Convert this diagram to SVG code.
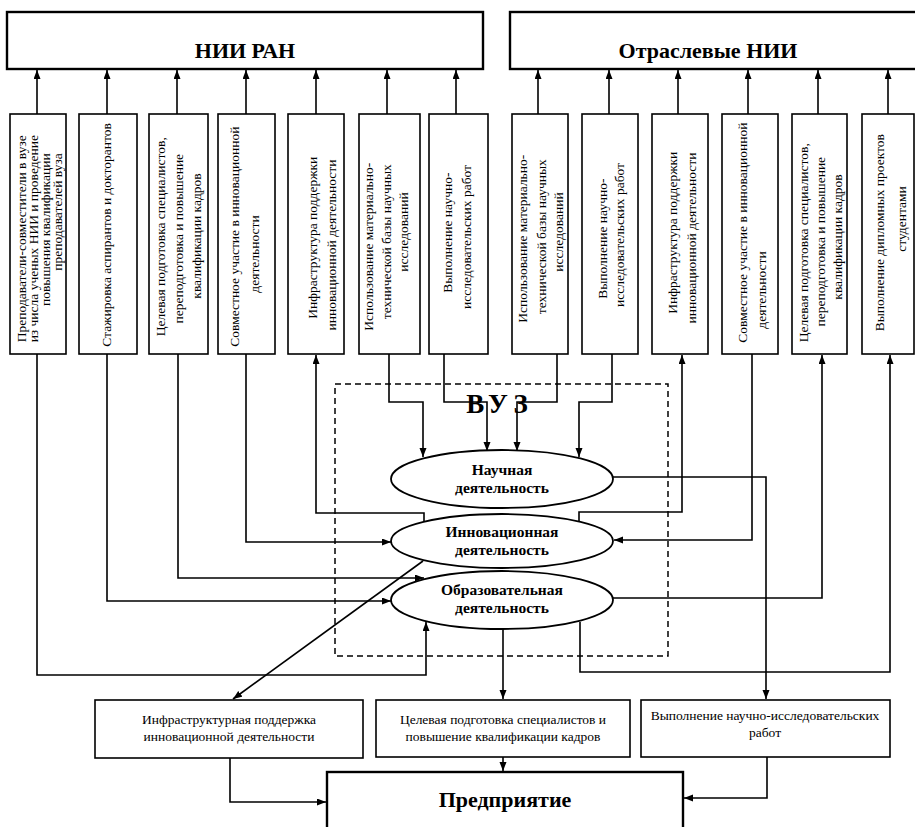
<svg xmlns="http://www.w3.org/2000/svg" width="915" height="827" viewBox="0 0 915 827">
  <style>
    .box { fill: #fff; stroke: #000; stroke-width: 1.6; }
    .big { fill: #fff; stroke: #000; stroke-width: 2.4; }
    .ell { fill: #fff; stroke: #000; stroke-width: 1.8; }
    .line { fill: none; stroke: #000; stroke-width: 1.6; }
    .arr { fill: none; stroke: #000; stroke-width: 1.6; marker-end: url(#ah); }
    .dash { fill: none; stroke: #000; stroke-width: 1.5; stroke-dasharray: 6 4; }
    .t { font-family: "Liberation Serif", "Times New Roman", serif; font-size: 13.5px; fill: #000; text-anchor: middle; }
    .hb { font-family: "Liberation Serif", "Times New Roman", serif; font-weight: bold; font-size: 22px; fill: #000; text-anchor: middle; }
    .eb { font-family: "Liberation Serif", "Times New Roman", serif; font-weight: bold; font-size: 15.5px; fill: #000; text-anchor: middle; }
  </style>
  <defs>
    <marker id="ah" markerUnits="userSpaceOnUse" markerWidth="10" markerHeight="8" refX="9" refY="3.5" orient="auto">
      <path d="M0,0 L9,3.5 L0,7 z" fill="#000"/>
    </marker>
  </defs>
  <rect width="915" height="827" fill="#fff"/>

  <!-- research institutes -->
  <g id="nii-ran">
    <rect class="big" x="7" y="12" width="476" height="57"/>
    <text class="hb" x="245" y="58">НИИ РАН</text>
  </g>
  <g id="nii-branch">
    <rect class="big" x="510" y="12" width="420" height="57"/>
    <text class="hb" x="708" y="58">Отраслевые НИИ</text>
  </g>

  <!-- cooperation forms (vertical boxes); text rotated: x=-centerY, y=baselineX -->
  <g id="f1">
    <rect class="box" x="10" y="114" width="56" height="240"/>
    <text class="t" transform="rotate(-90)">
      <tspan x="-237" y="26">Преподаватели-совместители в вузе</tspan>
      <tspan x="-237" y="38">из числа ученых НИИ и проведение</tspan>
      <tspan x="-228" y="50">повышения квалификации</tspan>
      <tspan x="-212" y="62">преподавателей вуза</tspan>
    </text>
  </g>
  <g id="f2">
    <rect class="box" x="79" y="114" width="58" height="240"/>
    <text class="t" transform="rotate(-90)"><tspan x="-235" y="111">Стажировка аспирантов и докторантов</tspan></text>
  </g>
  <g id="f3">
    <rect class="box" x="149" y="114" width="59" height="240"/>
    <text class="t" transform="rotate(-90)">
      <tspan x="-235" y="165">Целевая подготовка специалистов,</tspan>
      <tspan x="-237" y="183">переподготовка и повышение</tspan>
      <tspan x="-236" y="201">квалификации кадров</tspan>
    </text>
  </g>
  <g id="f4">
    <rect class="box" x="218" y="114" width="57" height="240"/>
    <text class="t" transform="rotate(-90)">
      <tspan x="-235" y="239">Совместное участие в инновационной</tspan>
      <tspan x="-254" y="259">деятельности</tspan>
    </text>
  </g>
  <g id="f5">
    <rect class="box" x="288" y="114" width="56" height="240"/>
    <text class="t" transform="rotate(-90)">
      <tspan x="-236" y="317">Инфраструктура поддержки</tspan>
      <tspan x="-245" y="336">инновационной деятельности</tspan>
    </text>
  </g>
  <g id="f6">
    <rect class="box" x="359" y="114" width="61" height="240"/>
    <text class="t" transform="rotate(-90)">
      <tspan x="-245" y="373">Использование материально-</tspan>
      <tspan x="-240" y="391">технической базы научных</tspan>
      <tspan x="-232" y="408">исследований</tspan>
    </text>
  </g>
  <g id="f7">
    <rect class="box" x="429" y="114" width="59" height="240"/>
    <text class="t" transform="rotate(-90)">
      <tspan x="-231" y="452">Выполнение научно-</tspan>
      <tspan x="-237" y="471">исследовательских работ</tspan>
    </text>
  </g>
  <g id="f8">
    <rect class="box" x="512" y="114" width="56" height="240"/>
    <text class="t" transform="rotate(-90)">
      <tspan x="-237" y="527">Использование материально-</tspan>
      <tspan x="-235" y="546">технической базы научных</tspan>
      <tspan x="-232" y="563">исследований</tspan>
    </text>
  </g>
  <g id="f9">
    <rect class="box" x="582" y="114" width="56" height="240"/>
    <text class="t" transform="rotate(-90)">
      <tspan x="-237" y="607">Выполнение научно-</tspan>
      <tspan x="-235" y="624">исследовательских работ</tspan>
    </text>
  </g>
  <g id="f10">
    <rect class="box" x="652" y="114" width="56" height="240"/>
    <text class="t" transform="rotate(-90)">
      <tspan x="-231" y="677">Инфраструктура поддержки</tspan>
      <tspan x="-238" y="696">инновационной деятельности</tspan>
    </text>
  </g>
  <g id="f11">
    <rect class="box" x="722" y="114" width="56" height="240"/>
    <text class="t" transform="rotate(-90)">
      <tspan x="-231" y="747">Совместное участие в инновационной</tspan>
      <tspan x="-290" y="766">деятельности</tspan>
    </text>
  </g>
  <g id="f12">
    <rect class="box" x="792" y="114" width="55" height="240"/>
    <text class="t" transform="rotate(-90)">
      <tspan x="-241" y="808">Целевая подготовка специалистов,</tspan>
      <tspan x="-240" y="825">переподготовка и повышение</tspan>
      <tspan x="-237" y="842">квалификации кадров</tspan>
    </text>
  </g>
  <g id="f13">
    <rect class="box" x="862" y="114" width="52" height="240"/>
    <text class="t" transform="rotate(-90)">
      <tspan x="-231" y="884">Выполнение дипломных проектов</tspan>
      <tspan x="-219" y="906">студентами</tspan>
    </text>
  </g>

  <!-- university boundary -->
  <g id="vuz">
    <rect class="dash" x="335" y="384" width="333" height="272"/>
    <text class="hb" x="500" y="413" style="font-size:27px; letter-spacing:6px">ВУЗ</text>
  </g>

  <!-- activities -->
  <g id="science">
    <ellipse class="ell" cx="502" cy="479" rx="111" ry="29"/>
    <text class="eb" x="502" y="475">Научная</text>
    <text class="eb" x="502" y="493">деятельность</text>
  </g>
  <g id="innovation">
    <ellipse class="ell" cx="502" cy="541" rx="111" ry="27"/>
    <text class="eb" x="502" y="537">Инновационная</text>
    <text class="eb" x="502" y="555">деятельность</text>
  </g>
  <g id="education">
    <ellipse class="ell" cx="502" cy="600" rx="111" ry="29"/>
    <text class="eb" x="502" y="595">Образовательная</text>
    <text class="eb" x="502" y="613">деятельность</text>
  </g>

  <!-- results for the enterprise -->
  <g id="r-infra">
    <rect class="box" x="95" y="700" width="268" height="58"/>
    <text class="t" x="229" y="724">Инфраструктурная поддержка</text>
    <text class="t" x="229" y="741">инновационной деятельности</text>
  </g>
  <g id="r-training">
    <rect class="box" x="376" y="700" width="254" height="57"/>
    <text class="t" x="503" y="724">Целевая подготовка специалистов и</text>
    <text class="t" x="503" y="741">повышение квалификации кадров</text>
  </g>
  <g id="r-research">
    <rect class="box" x="641" y="700" width="249" height="57"/>
    <text class="t" x="765" y="720">Выполнение научно-исследовательских</text>
    <text class="t" x="765" y="737">работ</text>
  </g>
  <g id="enterprise">
    <rect class="big" x="327" y="772" width="356" height="70"/>
    <text class="hb" x="505" y="807">Предприятие</text>
  </g>

  <g id="connectors">
    <!-- forms up to the institutes -->
    <path class="arr" d="M37,114 V70"/>
    <path class="arr" d="M107,114 V70"/>
    <path class="arr" d="M177,114 V70"/>
    <path class="arr" d="M246,114 V70"/>
    <path class="arr" d="M316,114 V70"/>
    <path class="arr" d="M387,114 V70"/>
    <path class="arr" d="M456,114 V70"/>
    <path class="arr" d="M538,114 V70"/>
    <path class="arr" d="M609,114 V70"/>
    <path class="arr" d="M678,114 V70"/>
    <path class="arr" d="M748,114 V70"/>
    <path class="arr" d="M818,114 V70"/>
    <path class="arr" d="M888,114 V70"/>

    <!-- forms into university activities -->
    <path class="arr" d="M37,354 V675 H426 V622"/>
    <path class="arr" d="M107,354 V601 H391"/>
    <path class="arr" d="M178,354 V578 H424"/>
    <path class="arr" d="M246,354 V542 H391"/>
    <path class="arr" d="M424,522 V513 H316 V355"/>
    <path class="arr" d="M389,354 V402 H423 V457"/>
    <path class="arr" d="M444,354 V402 H487 V451"/>
    <path class="arr" d="M557,354 V402 H517 V451"/>
    <path class="arr" d="M612,354 V402 H579 V457"/>
    <path class="arr" d="M579,522 V512 H682 V355"/>
    <path class="arr" d="M752,354 V540 H614"/>
    <path class="arr" d="M613,598 H822 V355"/>
    <path class="arr" d="M580,622 V672 H890 V355"/>

    <!-- activities to results -->
    <path class="arr" d="M612,477 H766 V699"/>
    <path class="arr" d="M503,629 V699"/>
    <path class="arr" d="M423,561 L233,699"/>

    <!-- results to the enterprise -->
    <path class="arr" d="M230,758 V802 H326"/>
    <path class="arr" d="M503,757 V771"/>
    <path class="arr" d="M767,757 V798 H684"/>
  </g>
</svg>
